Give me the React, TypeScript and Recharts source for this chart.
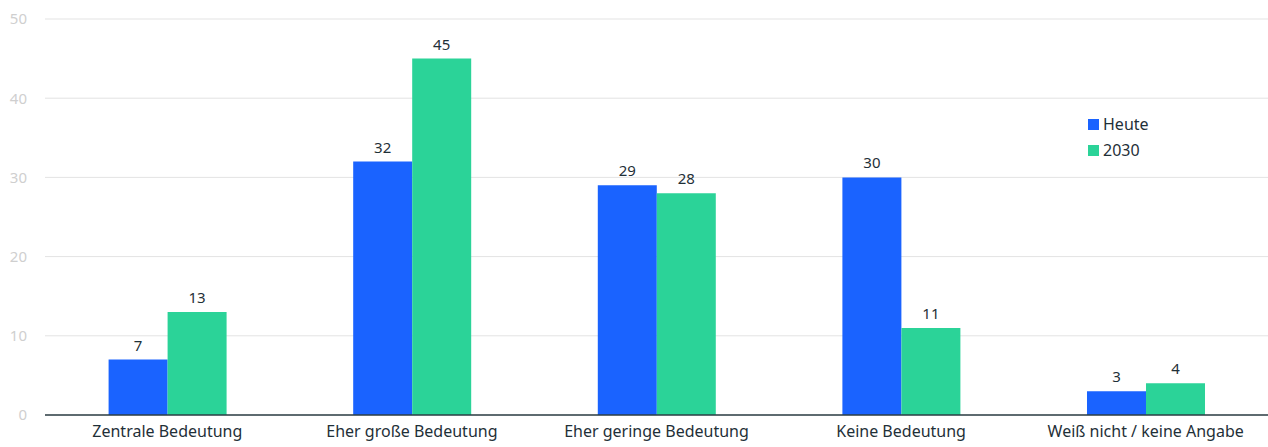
import { BarChart, Bar, XAxis, YAxis, CartesianGrid, LabelList } from "recharts"

const categories = [
  "Zentrale Bedeutung",
  "Eher große Bedeutung",
  "Eher geringe Bedeutung",
  "Keine Bedeutung",
  "Weiß nicht / keine Angabe",
]
const heute = [7, 32, 29, 30, 3]
const jahr2030 = [13, 45, 28, 11, 4]
const yTicks = [0, 10, 20, 30, 40, 50]

const data = categories.map((name, i) => ({ name, heute: heute[i], j2030: jahr2030[i] }))

const series = [
  { key: "heute", name: "Heute", color: "#1a63ff" },
  { key: "j2030", name: "2030", color: "#2bd398" },
]

const font = "'Noto Sans', sans-serif"
const textColor = "#1f3038"

export default function App() {
  return (
    <div style={{ position: "absolute", left: 0, top: 0, width: 1268, height: 447, background: "#fff", fontFamily: font }}>
      <BarChart
        width={1268}
        height={447}
        data={data}
        margin={{ top: 19, right: 0, bottom: 0, left: 0 }}
        barCategoryGap="26%"
        barGap={0}
      >
        <CartesianGrid vertical={false} stroke="#e3e3e3" strokeWidth={1} />
        <XAxis
          dataKey="name"
          height={32}
          tickLine={false}
          axisLine={{ stroke: "#2d3e45", strokeWidth: 1.5 }}
          tick={{ fill: textColor, fontSize: 16, fontFamily: font }}
          tickMargin={5}
          interval={0}
        />
        <YAxis
          width={45}
          domain={[0, 50]}
          ticks={yTicks}
          axisLine={false}
          tickLine={false}
          tickMargin={12}
          tick={{ fill: "#cfcfcf", fontSize: 15, fontFamily: font }}
        />
        {series.map((s) => (
          <Bar key={s.key} dataKey={s.key} name={s.name} fill={s.color} isAnimationActive={false}>
            <LabelList dataKey={s.key} position="top" offset={9} fill={textColor} fontSize={15} fontFamily={font} />
          </Bar>
        ))}
      </BarChart>
      <div style={{ position: "absolute", left: 1088, top: 111, fontSize: 16, lineHeight: "26px", color: textColor }}>
        {series.map((s) => (
          <div key={s.key} style={{ display: "flex", alignItems: "center" }}>
            <span style={{ width: 11, height: 11, background: s.color, marginRight: 4, display: "inline-block" }} />
            {s.name}
          </div>
        ))}
      </div>
    </div>
  )
}
